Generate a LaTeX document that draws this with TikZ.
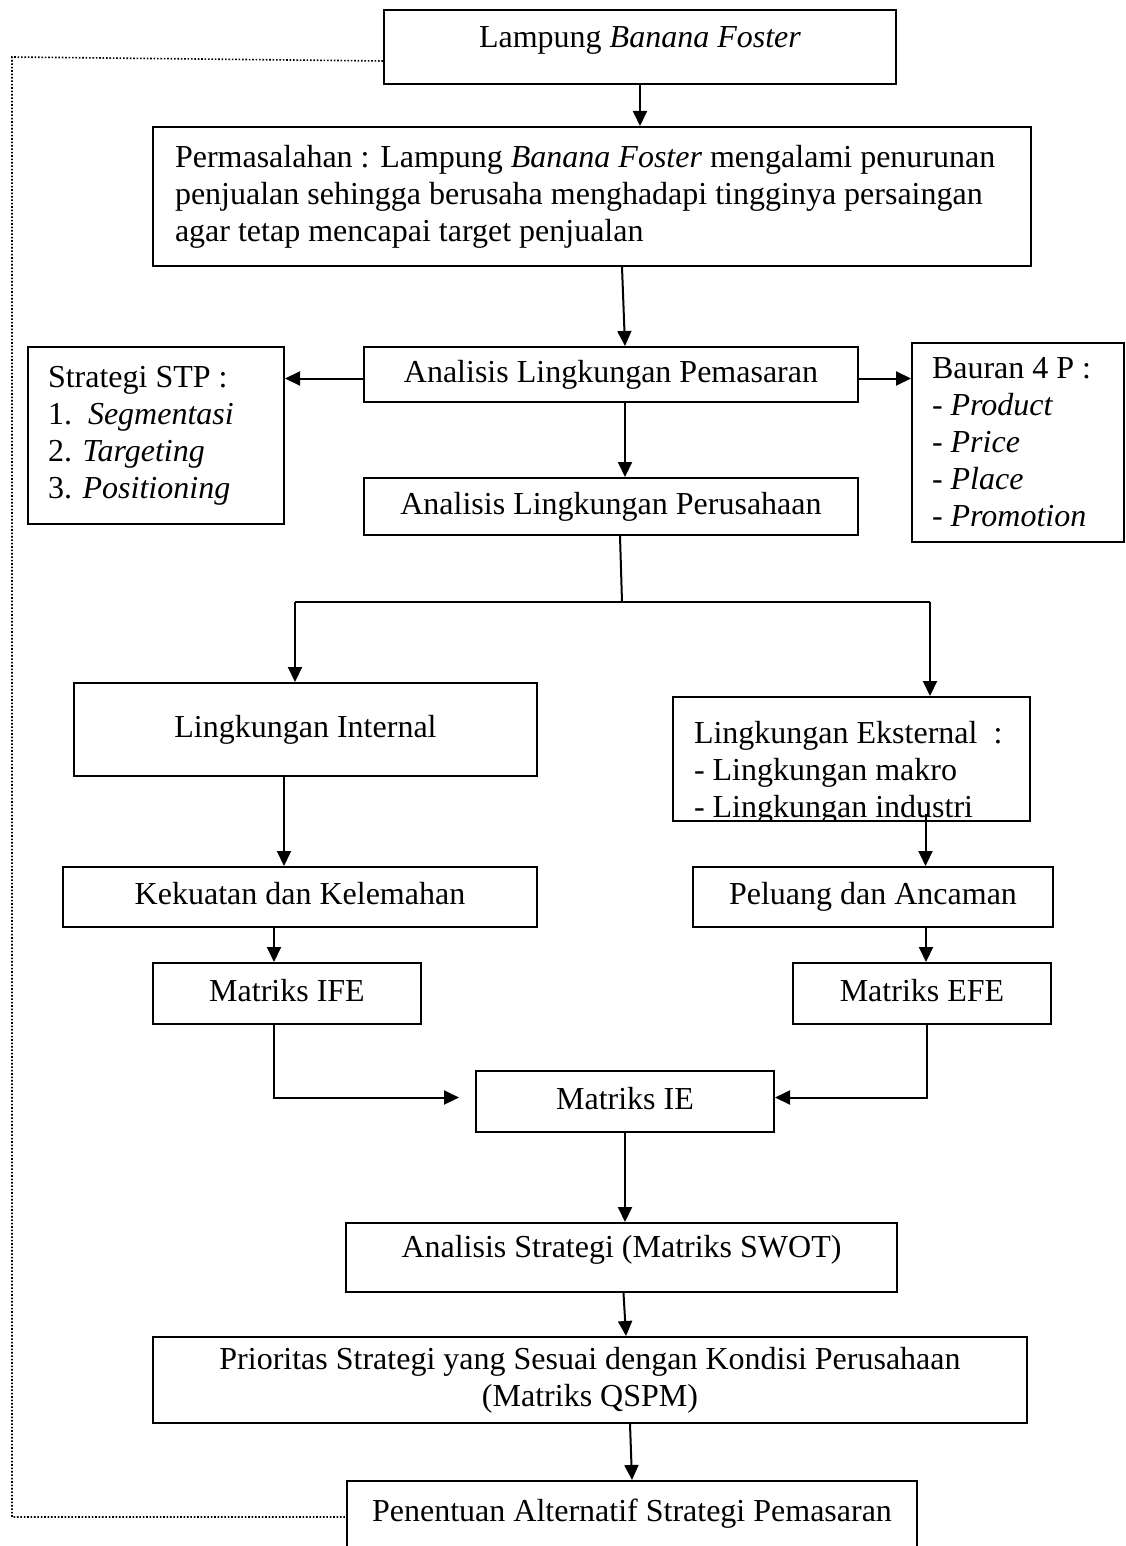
\documentclass[tikz,border=0pt]{standalone}
\usepackage{fontspec}
\setmainfont{Liberation Serif}
\usetikzlibrary{arrows.meta}
\newcommand{\hurufbagan}{\fontsize{16pt}{18.5pt}\selectfont}
\tikzset{
  kotak/.style={draw, line width=1pt, font=\hurufbagan, inner sep=0pt},
  sebaris/.style={text height=11pt, text depth=3.5pt},
  panah/.style={->,>={Triangle[length=7.5pt,width=7pt]}, line width=1pt},
  garis/.style={line width=1pt},
  titik/.style={line width=0.8pt, dash pattern=on 0.8pt off 0.9pt},
}

\begin{document}
\begin{tikzpicture}[x=0.5pt,y=-0.5pt]
\useasboundingbox (0,0) rectangle (1125,1546);

% kotak atas
\node[kotak, sebaris, text depth=10pt, minimum width=256pt, minimum height=37pt] (lampung) at (640,47) {Lampung \textit{Banana Foster}};
\node[kotak, minimum width=439pt, minimum height=69.5pt, text width=417pt, inner xsep=11pt, align=flush left] (masalah) at (592,196.5)
  {Permasalahan : Lampung \textit{Banana Foster} mengalami penurunan\\
   penjualan sehingga berusaha menghadapi tingginya persaingan\\
   agar tetap mencapai target penjualan};

% analisis lingkungan
\node[kotak, sebaris, minimum width=247pt, minimum height=27.5pt] (pemasaran) at (611,374.5) {Analisis Lingkungan Pemasaran};
\node[kotak, minimum width=128pt, minimum height=88.5pt, text width=108pt, inner xsep=10pt, align=flush left] (stp) at (156,435.5)
  {Strategi STP :\\1.~~\textit{Segmentasi}\\2. \textit{Targeting}\\3. \textit{Positioning}};
\node[kotak, minimum width=106pt, minimum height=99.5pt, text width=86pt, inner xsep=10pt, align=flush left] (bauran) at (1018,442.5)
  {Bauran 4 P :\\- \textit{Product}\\- \textit{Price}\\- \textit{Place}\\- \textit{Promotion}};
\node[kotak, sebaris, minimum width=247pt, minimum height=28.5pt] (perusahaan) at (611,506.5) {Analisis Lingkungan Perusahaan};

% internal dan eksternal
\node[kotak, sebaris, minimum width=231.5pt, minimum height=46.5pt] (internal) at (305.5,729.5) {Lingkungan Internal};
\node[kotak, minimum width=178.5pt, minimum height=62pt, path picture={
    \node[draw=none, anchor=north west, align=flush left, inner sep=0pt, minimum width=0pt, minimum height=0pt, font=\hurufbagan]
      at ([xshift=10pt,yshift=-11.5pt]path picture bounding box.north west)
      {Lingkungan Eksternal~~:\\- Lingkungan makro\\- Lingkungan industri};
  }] (eksternal) at (851.5,759) {};
\node[kotak, sebaris, minimum width=237pt, minimum height=30pt] (kekuatan) at (300,897) {Kekuatan dan Kelemahan};
\node[kotak, sebaris, minimum width=180pt, minimum height=30pt] (peluang) at (873,897) {Peluang dan Ancaman};
\node[kotak, sebaris, minimum width=134pt, minimum height=30.5pt] (ife) at (287,993.5) {Matriks IFE};
\node[kotak, sebaris, minimum width=129pt, minimum height=30.5pt] (efe) at (922,993.5) {Matriks EFE};

% strategi
\node[kotak, sebaris, minimum width=149pt, minimum height=30.5pt] (ie) at (625,1101.5) {Matriks IE};
\node[kotak, sebaris, text depth=11pt, minimum width=275.5pt, minimum height=34.5pt] (swot) at (621.5,1257.5) {Analisis Strategi (Matriks SWOT)};
\node[kotak, minimum width=437pt, minimum height=43pt, align=center] (qspm) at (590,1380)
  {Prioritas Strategi yang Sesuai dengan Kondisi Perusahaan\\(Matriks QSPM)};
\node[kotak, anchor=north, minimum width=285pt, text height=14pt, text depth=40pt, inner ysep=6pt] (penentuan) at (632,1480)
  {Penentuan Alternatif Strategi Pemasaran};

% panah
\draw[panah] (lampung.south) -- (lampung.south |- masalah.north);
\draw[panah] ([xshift=15pt]masalah.south) -- ([xshift=7pt]pemasaran.north);
\draw[panah] ([yshift=-2pt]pemasaran.west) -- ([yshift=-2pt]pemasaran.west -| stp.east);
\draw[panah] ([yshift=-2pt]pemasaran.east) -- ([yshift=-2pt]pemasaran.east -| bauran.west);
\draw[panah] ([xshift=7pt]pemasaran.south) -- ([xshift=7pt]perusahaan.north);

\coordinate (cabang) at (622,602);
\coordinate (cabangkiri) at (295,602);
\coordinate (cabangkanan) at (930,602);
\draw[garis] ([xshift=4.5pt]perusahaan.south) -- (cabang);
\draw[garis] (cabangkiri) -- (cabangkanan);
\draw[panah] (cabangkiri) -- (cabangkiri |- internal.north);
\draw[panah] (cabangkanan) -- (cabangkanan |- eksternal.north);

\draw[panah] ([xshift=-10.75pt]internal.south) -- ([xshift=-10.75pt]internal.south |- kekuatan.north);
\draw[panah] ([xshift=37pt,yshift=4pt]eksternal.south) -- ([xshift=37pt]eksternal.south |- peluang.north);
\draw[panah] ([xshift=-13pt]kekuatan.south) -- ([xshift=-13pt]kekuatan.south |- ife.north);
\draw[panah] ([xshift=26.5pt]peluang.south) -- ([xshift=26.5pt]peluang.south |- efe.north);

\draw[panah] ([xshift=-6.5pt]ife.south) |- ([xshift=-8pt,yshift=2pt]ie.west);
\draw[panah] ([xshift=2.5pt]efe.south) |- ([yshift=2pt]ie.east);
\draw[panah] (ie.south) -- (ie.south |- swot.north);
\draw[panah] ([xshift=1pt]swot.south) -- ([xshift=18pt]qspm.north);
\draw[panah] ([xshift=20pt]qspm.south) -- (penentuan.north);

% garis titik umpan balik
\coordinate (sudutatas) at (12,57);
\coordinate (sudutbawah) at (12,1517);
\draw[titik] ([yshift=-7pt]lampung.west) -- (sudutatas) -- (sudutbawah) -- ([yshift=-18.5pt]penentuan.north west);

\end{tikzpicture}
\end{document}
